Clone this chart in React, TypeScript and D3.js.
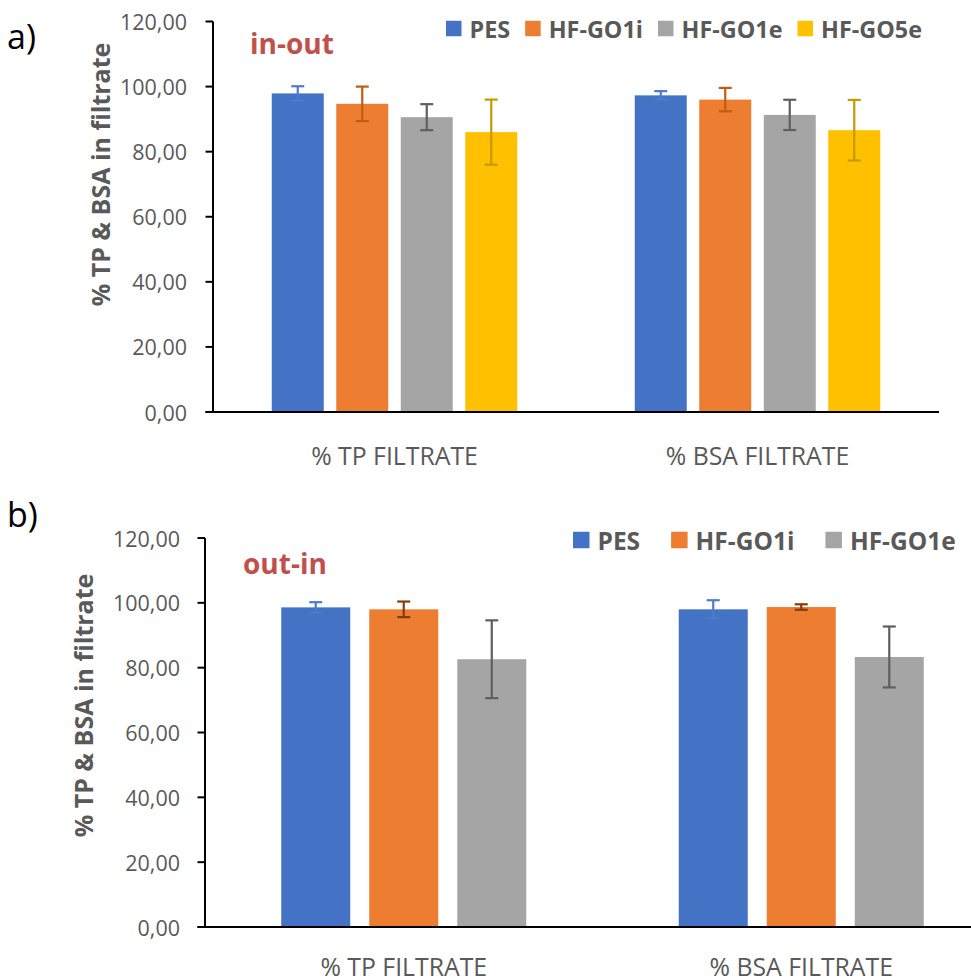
import React, { useEffect, useRef } from 'react';
import * as d3 from 'd3';

// Categories on the x axis (shared by both panels)
const categories = ['% TP FILTRATE', '% BSA FILTRATE'];

// Panel a) in-out: series, mean values and error (± half-range) per category
const seriesA = ['PES', 'HF-GO1i', 'HF-GO1e', 'HF-GO5e'];
const tpValuesA = [97.9, 94.7, 90.6, 86.0];
const bsaValuesA = [97.3, 96.0, 91.3, 86.6];
const tpErrorsA = [2.2, 5.3, 4.0, 10.0];
const bsaErrorsA = [1.3, 3.6, 4.65, 9.3];

// Panel b) out-in
const seriesB = ['PES', 'HF-GO1i', 'HF-GO1e'];
const tpValuesB = [98.6, 98.0, 82.6];
const bsaValuesB = [98.0, 98.7, 83.3];
const tpErrorsB = [1.6, 2.4, 12.0];
const bsaErrorsB = [2.8, 0.85, 9.4];

const yTicks = [0, 20, 40, 60, 80, 100, 120];
const yLabels = ['0,00', '20,00', '40,00', '60,00', '80,00', '100,00', '120,00'];

const fills = ['#4472C4', '#ED7D31', '#A5A5A5', '#FFC000'];
const errColorsA = ['#4F7ACB', '#C55A11', '#5F5F5F', '#C49A00'];
const errColorsB = ['#4F7ACB', '#843C0C', '#5F5F5F'];

const FONT = "'Open Sans', 'Noto Sans', sans-serif";
const GREY = '#595959';

type Panel = {
  series: string[];
  values: number[][];
  errors: number[][];
  errColors: string[];
  left: number; right: number; top: number; bottom: number;
  padInner: number; padOuter: number;
  tickLabelX: number; titleX: number; titleY: number;
  catLabelY: number;
  legend: { x: number; y: number; size: number; font: number; gap: number; itemGap: number };
  tag: string; tagX: number; tagY: number;
  mark: string; markY: number;
};

const panels: Panel[] = [
  {
    series: seriesA,
    values: [tpValuesA, bsaValuesA],
    errors: [tpErrorsA, bsaErrorsA],
    errColors: errColorsA,
    left: 213, right: 939, top: 21.5, bottom: 412,
    padInner: 0.194, padOuter: 0.911,
    tickLabelX: 187, titleX: 100, titleY: 174.5,
    catLabelY: 455,
    legend: { x: 446, y: 28.5, size: 15.5, font: 23.4, gap: 8, itemGap: 15 },
    tag: 'in-out', tagX: 250, tagY: 54,
    mark: 'a)', markY: 49,
  },
  {
    series: seriesB,
    values: [tpValuesB, bsaValuesB],
    errors: [tpErrorsB, bsaErrorsB],
    errColors: errColorsB,
    left: 205, right: 1000, top: 538, bottom: 927,
    padInner: 0.216, padOuter: 0.866,
    tickLabelX: 180, titleX: 83, titleY: 705.5,
    catLabelY: 966,
    legend: { x: 573, y: 540, size: 16.5, font: 24.5, gap: 8, itemGap: 31 },
    tag: 'out-in', tagX: 243, tagY: 574,
    mark: 'b)', markY: 527,
  },
];

function drawPanel(svg: d3.Selection<SVGSVGElement, unknown, null, undefined>, p: Panel) {
  const g = svg.append('g');
  const x0 = d3.scaleBand<string>().domain(categories).range([p.left, p.right]).padding(0);
  const x1 = d3
    .scaleBand<string>()
    .domain(p.series)
    .range([0, x0.bandwidth()])
    .paddingInner(p.padInner)
    .paddingOuter(p.padOuter);
  const y = d3.scaleLinear().domain([0, 120]).range([p.bottom, p.top]);

  // Bars and error bars
  categories.forEach((cat, ci) => {
    p.series.forEach((s, si) => {
      const v = p.values[ci][si];
      const e = p.errors[ci][si];
      const bx = (x0(cat) as number) + (x1(s) as number);
      const bw = x1.bandwidth();
      g.append('rect')
        .attr('x', bx)
        .attr('y', y(v))
        .attr('width', bw)
        .attr('height', y(0) - y(v))
        .attr('fill', fills[si]);
      const cx = bx + bw / 2;
      const cap = 6.5;
      const eg = g.append('g').attr('stroke', p.errColors[si]).attr('stroke-width', 2.2);
      eg.append('line').attr('x1', cx).attr('x2', cx).attr('y1', y(v + e)).attr('y2', y(v - e));
      eg.append('line').attr('x1', cx - cap).attr('x2', cx + cap).attr('y1', y(v + e)).attr('y2', y(v + e));
      eg.append('line').attr('x1', cx - cap).attr('x2', cx + cap).attr('y1', y(v - e)).attr('y2', y(v - e));
    });
    g.append('text')
      .attr('x', (x0(cat) as number) + x0.bandwidth() / 2)
      .attr('y', p.catLabelY)
      .attr('text-anchor', 'middle')
      .attr('dominant-baseline', 'central')
      .attr('font-family', FONT)
      .attr('font-size', 24.8)
      .attr('fill', GREY)
      .text(cat);
  });

  // Y axis with outward ticks
  g.append('line')
    .attr('x1', p.left).attr('x2', p.left)
    .attr('y1', y(120)).attr('y2', y(0))
    .attr('stroke', '#000').attr('stroke-width', 2);
  yTicks.forEach((t, i) => {
    g.append('line')
      .attr('x1', p.left - 7.5).attr('x2', p.left)
      .attr('y1', y(t)).attr('y2', y(t))
      .attr('stroke', '#000').attr('stroke-width', 2);
    g.append('text')
      .attr('x', p.tickLabelX)
      .attr('y', y(t))
      .attr('text-anchor', 'end')
      .attr('dominant-baseline', 'central')
      .attr('font-family', FONT)
      .attr('font-size', 21.5)
      .attr('fill', GREY)
      .text(yLabels[i]);
  });

  // X axis baseline
  g.append('line')
    .attr('x1', p.left - 7.5).attr('x2', p.right)
    .attr('y1', y(0)).attr('y2', y(0))
    .attr('stroke', '#000').attr('stroke-width', 2);

  // Y axis title
  g.append('text')
    .attr('transform', `translate(${p.titleX},${p.titleY}) rotate(-90)`)
    .attr('text-anchor', 'middle')
    .attr('dominant-baseline', 'central')
    .attr('font-family', FONT)
    .attr('font-weight', 700)
    .attr('font-size', 25)
    .attr('fill', GREY)
    .text('% TP & BSA in filtrate');

  // Legend, laid out left to right from measured text widths
  const L = p.legend;
  let lx = L.x;
  p.series.forEach((s, si) => {
    g.append('rect')
      .attr('x', lx)
      .attr('y', L.y - L.size / 2)
      .attr('width', L.size)
      .attr('height', L.size)
      .attr('fill', fills[si]);
    const t = g
      .append('text')
      .attr('x', lx + L.size + L.gap)
      .attr('y', L.y)
      .attr('dominant-baseline', 'central')
      .attr('font-family', FONT)
      .attr('font-weight', 700)
      .attr('font-size', L.font)
      .attr('fill', GREY)
      .text(s);
    const w = (t.node() as SVGTextElement).getComputedTextLength();
    lx += L.size + L.gap + w + L.itemGap;
  });

  // Flow configuration tag
  g.append('text')
    .attr('x', p.tagX)
    .attr('y', p.tagY)
    .attr('font-family', FONT)
    .attr('font-weight', 700)
    .attr('font-size', 28)
    .attr('fill', '#C0504D')
    .text(p.tag);

  // Panel letter
  g.append('text')
    .attr('x', 7)
    .attr('y', p.markY)
    .attr('font-family', FONT)
    .attr('font-size', 34)
    .attr('fill', '#000')
    .text(p.mark);
}

export default function App() {
  const ref = useRef<SVGSVGElement>(null);
  useEffect(() => {
    if (!ref.current) return;
    const svg = d3.select(ref.current);
    svg.selectAll('*').remove();
    panels.forEach((p) => drawPanel(svg, p));
  }, []);
  return (
    <svg
      ref={ref}
      width={971}
      height={978}
      style={{ position: 'absolute', left: 0, top: 0, background: '#fff' }}
    />
  );
}
